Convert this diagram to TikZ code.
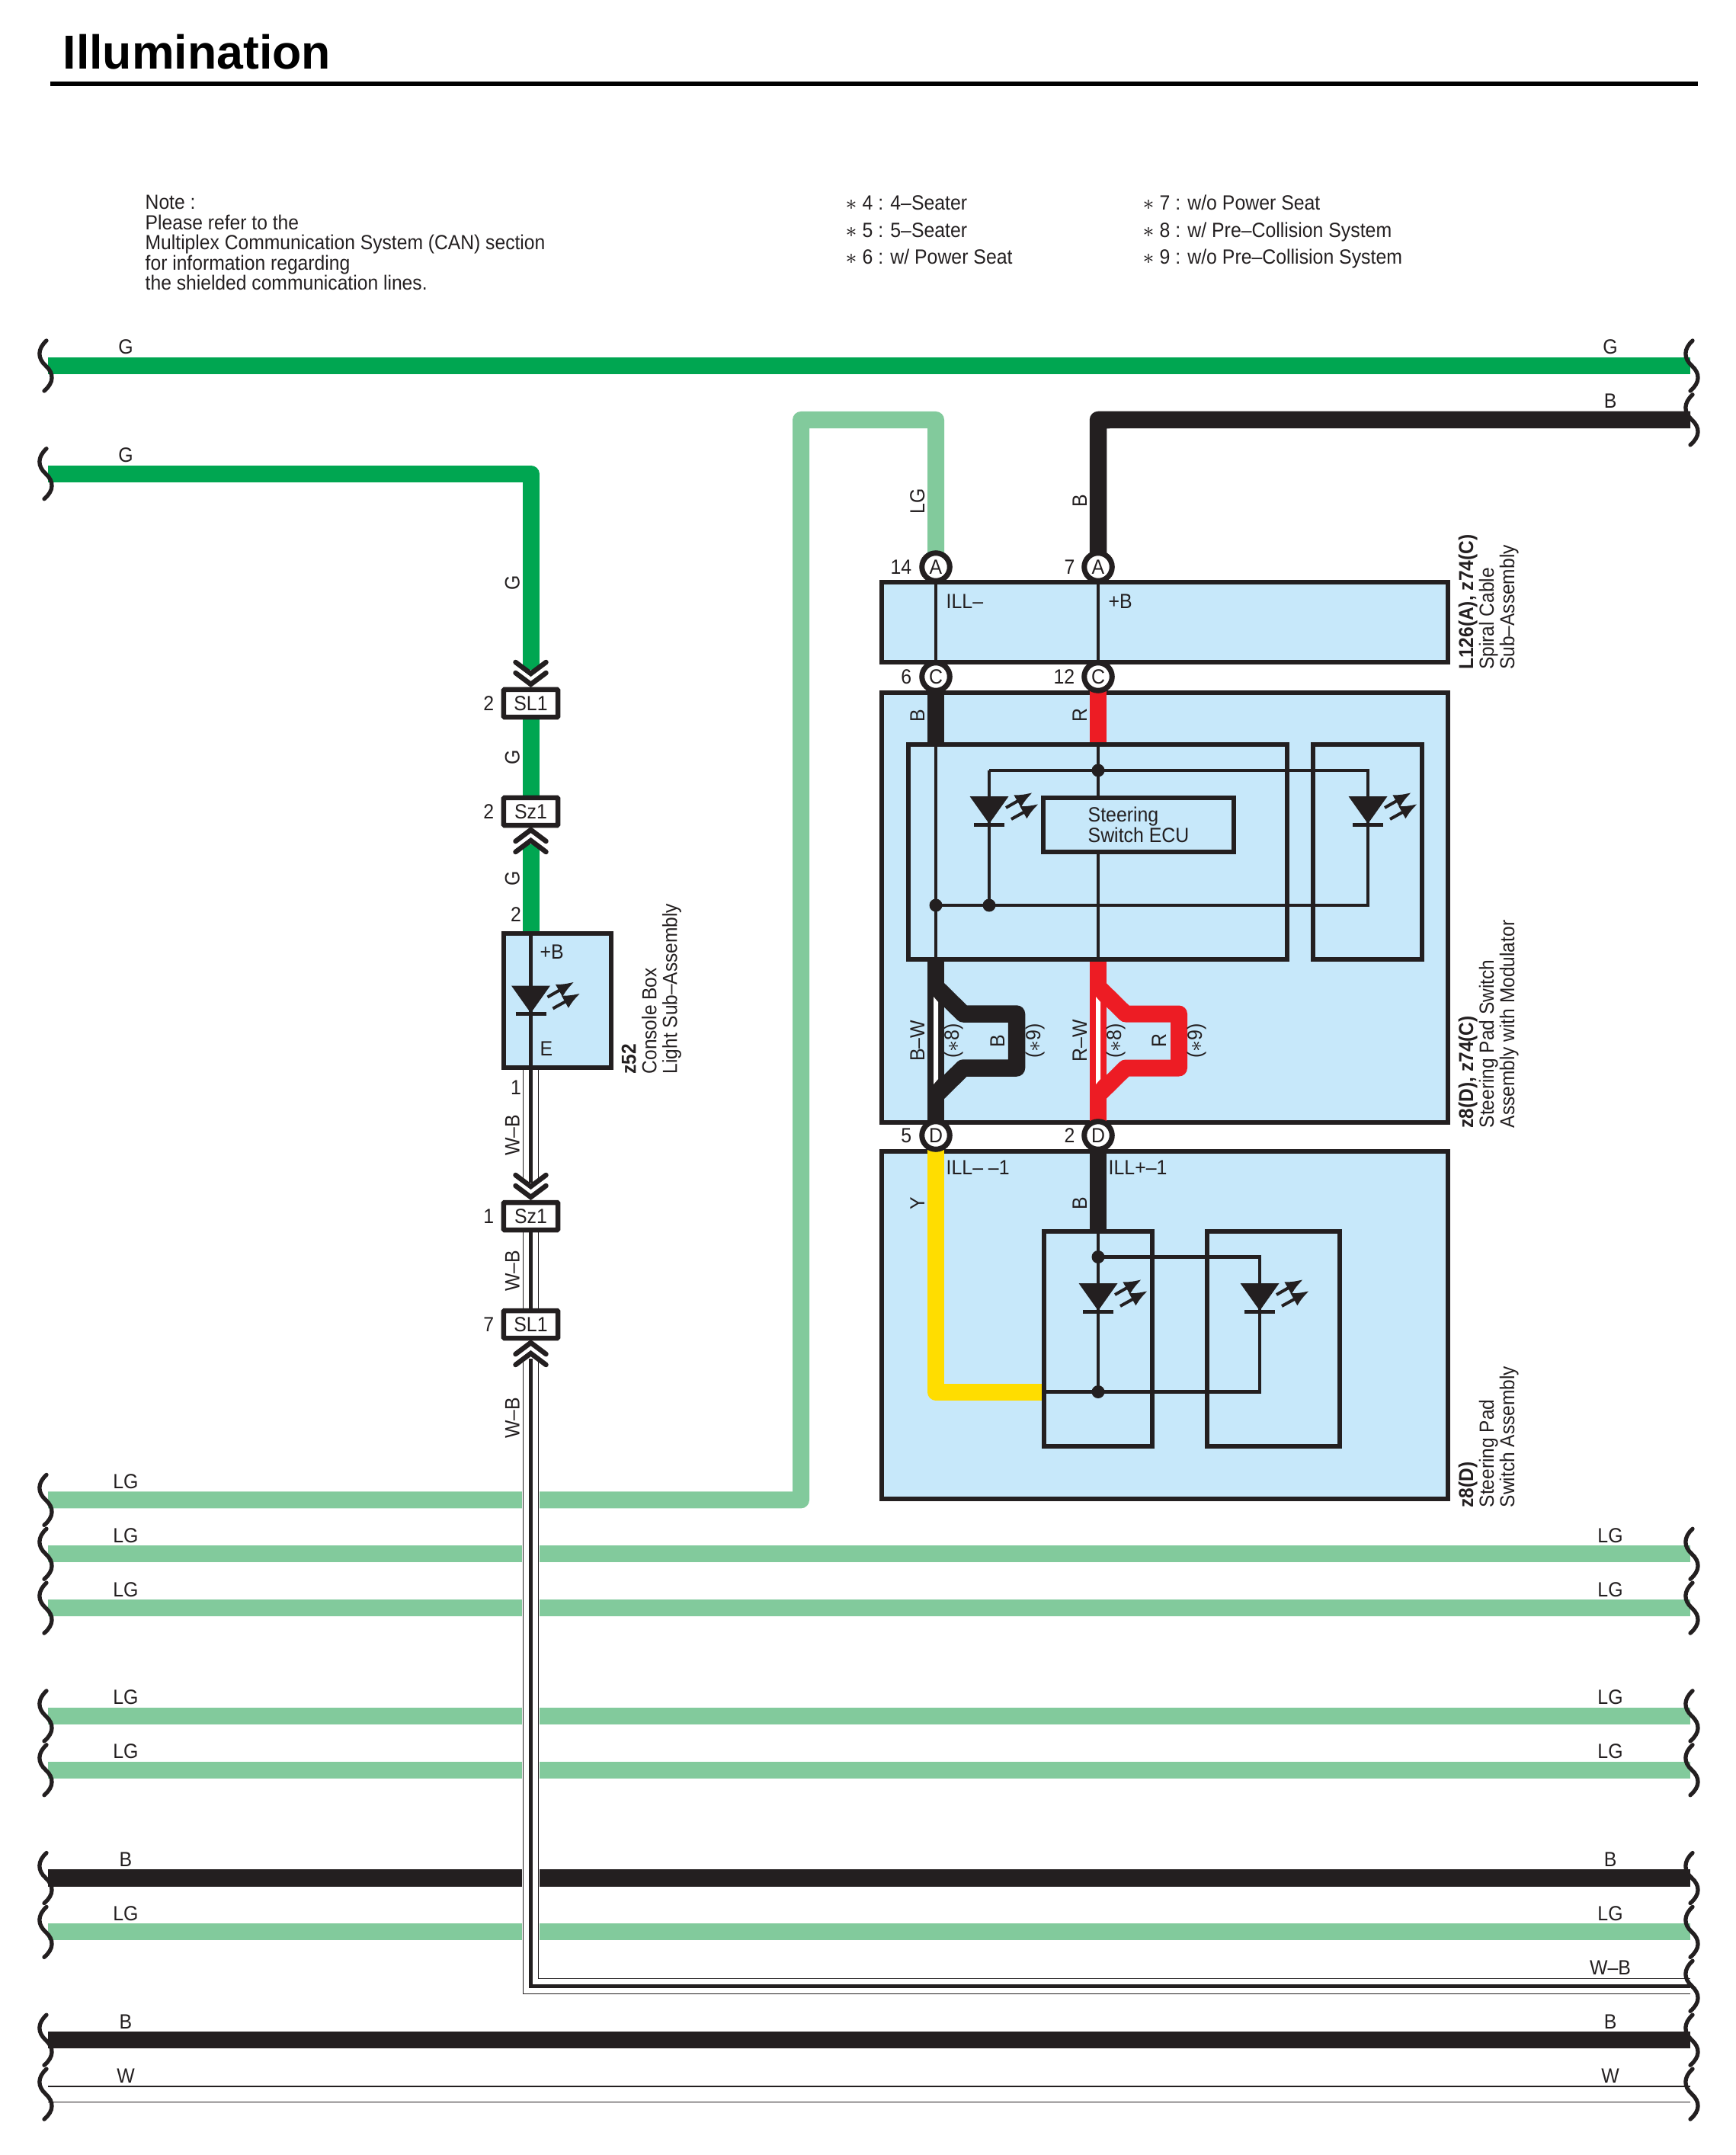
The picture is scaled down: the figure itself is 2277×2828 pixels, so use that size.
\documentclass[tikz,border=0pt]{standalone}
\usepackage{fontspec}
\setmainfont{Liberation Sans}[FakeStretch=0.92]
\newfontfamily\titlefont{Liberation Sans}
\usetikzlibrary{arrows.meta}

\definecolor{ink}{HTML}{231F20}
\definecolor{gnwire}{HTML}{00A651}
\definecolor{lgwire}{HTML}{82CA9C}
\definecolor{ywire}{HTML}{FFDD00}
\definecolor{rwire}{HTML}{ED1C24}
\definecolor{boxblue}{HTML}{C7E8FA}

\newcommand{\st}{$\ast$}

\tikzset{
	txt/.style={inner sep=0,text=ink,font=\fontsize{7.68}{7.68}\selectfont},
	wlab/.style={txt,rotate=90,anchor=base},
	sidelab/.style={txt,rotate=90,anchor=north west,align=left,font=\fontsize{7.58}{7.68}\selectfont},
	block/.style={draw=ink,fill=boxblue,line width=0.06cm,inner sep=0},
	inbox/.style={draw=ink,line width=0.06cm},
	conn/.style={txt,draw=ink,fill=white,line width=0.065cm,rounded corners=0.01cm,minimum width=0.71cm,minimum height=0.36cm},
	pin/.style={txt,circle,draw=ink,fill=white,line width=0.07cm,minimum size=0.365cm},
	jdot/.style={circle,fill=ink,inner sep=0,minimum size=0.17cm},
	wireG/.style={gnwire,line width=0.22cm,line join=round},
	wireLG/.style={lgwire,line width=0.22cm,line join=round},
	wireB/.style={ink,line width=0.225cm,line join=round},
	wireR/.style={rwire,line width=0.22cm,line join=round},
	wireY/.style={ywire,line width=0.22cm,line join=round},
	wireW/.style={white,line width=0.19cm,preaction={draw,ink,line width=0.213cm}},
	wireWB/.style={ink,line width=0.047cm,preaction={draw,white,line width=0.23cm},preaction={draw,ink,line width=0.213cm},preaction={draw,white,line width=0.19cm}},
	thinw/.style={ink,line width=0.045cm},
	wave/.pic={\draw[ink,line width=0.053cm,line cap=round] (1,-33) .. controls (-11,-22) and (-11,-10) .. (0,0) .. controls (11,10) and (11,22) .. (-2,33);},
	chevdn/.pic={\draw[ink,line width=0.065cm,line cap=round] (-20,-15) -- (0,0) -- (20,-15);},
	chevup/.pic={\draw[ink,line width=0.065cm,line cap=round] (-20,15) -- (0,0) -- (20,15);},
	led/.pic={
		\fill[ink] (-25.5,0) -- (25.5,0) -- (0,36) -- cycle;
		\draw[ink,line width=0.05cm] (-20,37) -- (20,37);
		\draw[ink,line width=0.04cm,-{Latex[length=0.23cm,width=0.19cm]}] (22,15) -- (57,-5);
		\draw[ink,line width=0.04cm,-{Latex[length=0.23cm,width=0.19cm]}] (29,30) -- (65,10);
	},
}

\begin{document}
\begin{tikzpicture}[x=0.01cm,y=-0.01cm]
\useasboundingbox (0,0) rectangle (2277,2828);

% heading
\node[anchor=base west,inner sep=0,font=\titlefont\bfseries\fontsize{17.8}{17.8}\selectfont] (title) at (82,91) {Illumination};
\coordinate (ruleL) at (66,110.5);
\coordinate (ruleR) at (2228,110.5);
\draw[black,line width=0.06cm] (ruleL) -- (ruleR);

% notes
\node[txt,anchor=north west,align=left,font=\fontsize{7.62}{7.4}\selectfont] (note) at (190,255.5) {Note :\\[0.013cm]
	Please refer to the\\
	Multiplex Communication System (CAN) section\\
	for information regarding\\
	the shielded communication lines.};
\foreach \y/\t in {276/{4 : 4–Seater},311.7/{5 : 5–Seater},346.7/{6 : w/ Power Seat}}{
	\node[txt,anchor=base west] at (1109,\y) {\st\ \t};
}
\foreach \y/\t in {276/{7 : w/o Power Seat},311.7/{8 : w/ Pre–Collision System},346.7/{9 : w/o Pre–Collision System}}{
	\node[txt,anchor=base west] at (1499,\y) {\st\ \t};
}

% end points of the wire rows
\foreach \k in {0,1,2,21,22,23,25,26,28,29,30,31,32}{
	\coordinate (L\k) at (63,{480+70.875*\k});
	\coordinate (R\k) at (2218,{480+70.875*\k});
}

% rows running the whole width
\foreach \k/\w/\t in {0/wireG/G,22/wireLG/LG,23/wireLG/LG,25/wireLG/LG,26/wireLG/LG,28/wireB/B,29/wireLG/LG,31/wireB/B,32/wireW/W}{
	\draw[\w] (L\k) -- (R\k);
	\node[txt,anchor=base] at (165,{465+70.875*\k}) {\t};
	\node[txt,anchor=base] at (2113,{465+70.875*\k}) {\t};
}
\foreach \k/\t in {2/G,21/LG}{
	\node[txt,anchor=base] at (165,{465+70.875*\k}) {\t};
}
\foreach \k/\t in {1/B,30/W–B}{
	\node[txt,anchor=base] at (2113,{465+70.875*\k}) {\t};
}

% the three blocks on the right
\node[block,minimum width=7.42cm,minimum height=1.05cm] (spiral) at (1528.5,816.5) {};
\node[block,minimum width=7.42cm,minimum height=5.635cm] (modul) at (1528.5,1191.2) {};
\node[block,minimum width=7.42cm,minimum height=4.56cm] (pad) at (1528.5,1739) {};

% terminal positions
\coordinate (pA14) at (1228,744);
\coordinate (pA7) at (1441,744);
\coordinate (pC6) at (1228,888);
\coordinate (pC12) at (1441,888);
\coordinate (pD5) at (1228,1490);
\coordinate (pD2) at (1441,1490);

% left column
\node[block,minimum width=1.41cm,minimum height=1.76cm] (cbox) at (731.5,1313) {};
\coordinate (gnA) at (696.5,621.75);
\coordinate (gnB) at (696.5,879);
\coordinate (gnC) at (696.5,1108);
\coordinate (wbA) at (696.5,1552);
\coordinate (wbB) at (696.5,1783);
\coordinate (wbC) at (696.5,2606.25);
\coordinate (cSLa) at (696.5,923);
\coordinate (cSza) at (696.5,1065);
\coordinate (cSzb) at (696.5,1596);
\coordinate (cSLb) at (696.5,1738);
\draw[wireG] (L2) -- (gnA) -- (gnB);
\draw[wireG] (cSLa) -- (cSza);
\draw[wireG] (gnC) -- (696.5,1222);
\draw[thinw] (696.5,1222) -- (696.5,1404);
\pic at (696.5,1293.5) {led};

% long wires to the spiral cable
\coordinate (lgA) at (1051,1968.4);
\coordinate (lgB) at (1051,551);
\coordinate (lgC) at (1228,551);
\coordinate (bkA) at (1441,551);
\draw[wireLG] (L21) -- (lgA) -- (lgB) -- (lgC) -- (pA14);
\draw[wireB] (R1) -- (bkA) -- (pA7);
\draw[thinw] (pA14) -- (pC6);
\draw[thinw] (pA7) -- (pC12);

% W-B wire on top of the rows
\draw[wireWB] (696.5,1404) -- (wbA);
\draw[wireWB] (cSzb) -- (cSLb);
\draw[wireWB] (wbB) -- (wbC) -- (R30);

% connectors
\node[conn] (SLa) at (cSLa) {SL1};
\node[conn] (Sza) at (cSza) {Sz1};
\node[conn] (Szb) at (cSzb) {Sz1};
\node[conn] (SLb) at (cSLb) {SL1};
\pic at (696.5,884) {chevdn};
\pic at (696.5,898) {chevdn};
\pic at (696.5,1089) {chevup};
\pic at (696.5,1103) {chevup};
\pic at (696.5,1557) {chevdn};
\pic at (696.5,1571) {chevdn};
\pic at (696.5,1762) {chevup};
\pic at (696.5,1776) {chevup};

\node[txt,left] at (649,923) {2};
\node[txt,left] at (649,1065) {2};
\node[txt,left] at (649,1596) {1};
\node[txt,left] at (649,1738) {7};
\node[txt] at (677,1200) {2};
\node[txt] at (677,1427) {1};
\node[txt,anchor=base west] at (708,1258) {+B};
\node[txt,anchor=base west] at (708,1385) {E};
\node[wlab] at (681.5,765) {G};
\node[wlab] at (681.5,994) {G};
\node[wlab] at (681.5,1153) {G};
\node[wlab] at (681.5,1490) {W–B};
\node[wlab] at (681.5,1668) {W–B};
\node[wlab] at (681.5,1861) {W–B};
\node[sidelab] at (815,1410) {\textbf{z52}\\Console Box\\Light Sub–Assembly};

% steering pad switch with modulator
\draw[wireB] (pC6) -- (1228,977);
\draw[wireR] (pC12) -- (1441,977);
\draw[wireB] (1228,1259) -- (pD5);
\draw[wireR] (1441,1259) -- (pD2);
\draw[wireB] (1228,1295) -- (1264,1330.5) -- (1334,1330.5) -- (1334,1401.5) -- (1264,1401.5) -- (1228,1437);
\draw[wireR] (1441,1295) -- (1477,1330.5) -- (1547,1330.5) -- (1547,1401.5) -- (1477,1401.5) -- (1441,1437);
\fill[white] (1225,1308) -- (1231,1315) -- (1231,1416) -- (1225,1423) -- cycle;
\fill[white] (1438,1308) -- (1444,1315) -- (1444,1416) -- (1438,1423) -- cycle;
\node[inbox,minimum width=4.96cm,minimum height=2.82cm] (swA) at (1440.5,1118) {};
\node[inbox,minimum width=1.42cm,minimum height=2.82cm] (swB) at (1794.5,1118) {};
\coordinate (tl) at (1298,1011);
\coordinate (tr) at (1795,1011);
\coordinate (br) at (1795,1188);
\draw[thinw] (1228,977) -- (1228,1259);
\draw[thinw] (1441,977) -- (1441,1259);
\draw[thinw] (tl) -- (tr) -- (br) -- (1228,1188);
\draw[thinw] (tl) -- (1298,1188);
\node[jdot] (jt) at (1441,1011) {};
\node[jdot] (jb) at (1228,1188) {};
\node[jdot] (jl) at (1298,1188) {};
\pic at (1298,1045) {led};
\pic at (1795,1045) {led};
\node[inbox,fill=boxblue,minimum width=2.49cm,minimum height=0.715cm] (ecu) at (1494,1082.5) {};
\node[txt,anchor=north west,align=left] (ecutxt) at (1427,1058) {Steering\\Switch ECU};
\node[wlab] at (1213,939) {B};
\node[wlab] at (1426,939) {R};
\node[wlab] at (1213,1366) {B–W};
\node[wlab] at (1426,1366) {R–W};
\node[wlab] at (1258,1366) {(\st8)};
\node[wlab] at (1471,1366) {(\st8)};
\node[wlab] at (1318,1366) {B};
\node[wlab] at (1530,1366) {R};
\node[wlab] at (1365,1366) {(\st9)};
\node[wlab] at (1577,1366) {(\st9)};

% steering pad switch
\coordinate (yc) at (1228,1826.5);
\draw[wireY] (pD5) -- (yc) -- (1370,1826.5);
\draw[wireB] (pD2) -- (1441,1616);
\node[inbox,minimum width=1.42cm,minimum height=2.81cm] (pdA) at (1441,1757) {};
\node[inbox,minimum width=1.745cm,minimum height=2.81cm] (pdB) at (1671,1757) {};
\coordinate (ptr) at (1653,1649.5);
\coordinate (pbr) at (1653,1826.5);
\draw[thinw] (1441,1616) -- (1441,1826.5);
\draw[thinw] (1441,1649.5) -- (ptr) -- (pbr) -- (1370,1826.5);
\node[jdot] (jp) at (1441,1649.5) {};
\node[jdot] (jq) at (1441,1826.5) {};
\pic at (1441,1684) {led};
\pic at (1653,1684) {led};
\node[wlab] at (1213,1579) {Y};
\node[wlab] at (1426,1579) {B};
\node[txt,anchor=base west] at (1241,1541) {ILL– –1};
\node[txt,anchor=base west] at (1454,1541) {ILL+–1};

% spiral cable
\node[wlab] at (1213,657.5) {LG};
\node[wlab] at (1426,657.5) {B};
\node[txt,anchor=base west] at (1241,798) {ILL–};
\node[txt,anchor=base west] at (1454,798) {+B};

% terminals on top of the blocks
\node[pin] (tA14) at (pA14) {A};
\node[pin] (tA7) at (pA7) {A};
\node[pin] (tC6) at (pC6) {C};
\node[pin] (tC12) at (pC12) {C};
\node[pin] (tD5) at (pD5) {D};
\node[pin] (tD2) at (pD2) {D};
\foreach \x/\y/\t in {1197/744/14,1411/744/7,1197/888/6,1411/888/12,1197/1490/5,1411/1490/2}{
	\node[txt,left] at (\x,\y) {\t};
}

% names of the blocks
\node[sidelab] at (1913,879.5) {\textbf{L126(A), z74(C)}\\Spiral Cable\\Sub–Assembly};
\node[sidelab] at (1913,1481) {\textbf{z8(D), z74(C)}\\Steering Pad Switch\\Assembly with Modulator};
\node[sidelab] at (1913,1979) {\textbf{z8(D)}\\Steering Pad\\Switch Assembly};

% wavy breaks
\foreach \k in {0,2,21,22,23,25,26,28,29,31,32}{
	\pic at (60,{480+70.875*\k}) {wave};
}
\foreach \k in {0,1,22,23,25,26,28,29,30,31,32}{
	\pic at (2220,{480+70.875*\k}) {wave};
}
\end{tikzpicture}
\end{document}
